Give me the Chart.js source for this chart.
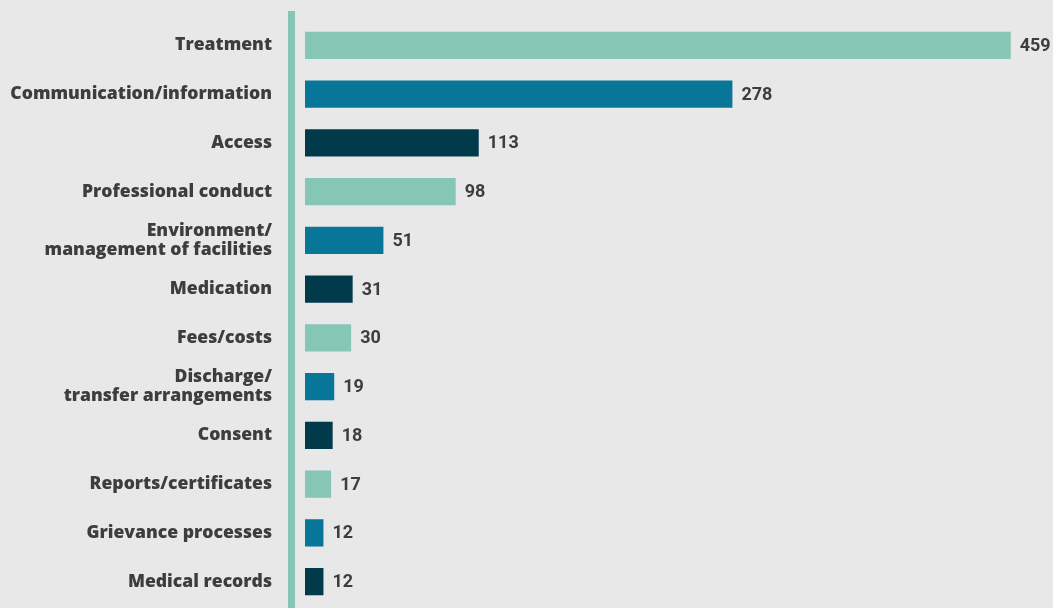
<!DOCTYPE html>
<html>
<head>
<meta charset="utf-8">
<script src="https://cdn.jsdelivr.net/npm/chart.js@4/dist/chart.umd.min.js"></script>
<style>
  html, body { margin: 0; padding: 0; background: #e8e8e8; }
  #wrap { width: 1053px; height: 608px; }
</style>
</head>
<body>
<div id="wrap"><canvas id="barChart" width="1053" height="608"></canvas></div>
<script>
// categories and values
var categories = [
  'Treatment',
  'Communication/information',
  'Access',
  'Professional conduct',
  ['Environment/', 'management of facilities'],
  'Medication',
  'Fees/costs',
  ['Discharge/', 'transfer arrangements'],
  'Consent',
  'Reports/certificates',
  'Grievance processes',
  'Medical records'
];
var counts = [459, 278, 113, 98, 51, 31, 30, 19, 18, 17, 12, 12];
var palette = ['#85c6b4', '#087699', '#013a4b'];
var barColors = counts.map(function(v, i) { return palette[i % 3]; });

// green vertical rule left of the bars
var axisRule = {
  id: 'axisRule',
  beforeDatasetsDraw: function(chart) {
    var c = chart.ctx;
    c.save();
    c.fillStyle = '#85c6b4';
    c.fillRect(chart.chartArea.left - 17, 11, 7, chart.height - 11);
    c.restore();
  }
};

// numbers at the end of each bar
var valueLabels = {
  id: 'valueLabels',
  afterDatasetsDraw: function(chart) {
    var c = chart.ctx;
    var meta = chart.getDatasetMeta(0);
    c.save();
    c.font = 'bold 18px Roboto';
    c.fillStyle = '#3d3d3d';
    c.textBaseline = 'middle';
    c.textAlign = 'left';
    meta.data.forEach(function(bar, i) {
      c.fillText(counts[i], bar.x + 9, bar.y + 1);
    });
    c.restore();
  }
};

window.onload = function() {
  var ctx = document.getElementById('barChart').getContext('2d');
  var chart = new Chart(ctx, {
    type: 'bar',
    data: {
      labels: categories,
      datasets: [{
        data: counts,
        backgroundColor: barColors,
        borderWidth: 0,
        categoryPercentage: 1,
        barPercentage: 0.56
      }]
    },
    options: {
      indexAxis: 'y',
      responsive: false,
      animation: false,
      layout: { padding: { top: 21, bottom: 2, right: 10, left: 0 } },
      plugins: {
        legend: { display: false },
        tooltip: { enabled: false }
      },
      scales: {
        x: {
          display: false,
          min: 0,
          max: 480
        },
        y: {
          afterFit: function(scale) {
            scale.width = 305;
            scale.paddingTop = 0;
            scale.paddingBottom = 0;
          },
          grid: { display: false, drawTicks: false },
          border: { display: false },
          ticks: {
            padding: 33,
            color: '#3d3d3d',
            font: { family: 'Open Sans', weight: '800', size: 17.6, lineHeight: 1.04 }
          }
        }
      }
    },
    plugins: [axisRule, valueLabels]
  });
};
</script>
</body>
</html>
